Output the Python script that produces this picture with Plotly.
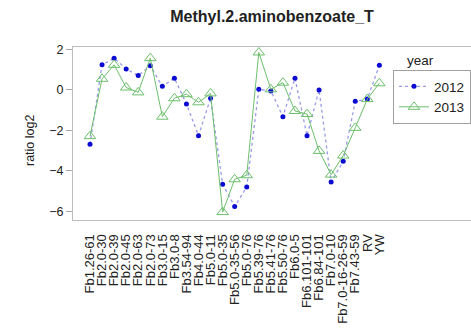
import plotly.graph_objects as go

categories = ["Fb1.26-61", "Fb2.0-30", "Fb2.0-39", "Fb2.0-45", "Fb2.0-63", "Fb2.0-73",
              "Fb3.0-15", "Fb3.0-8", "Fb3.54-94", "Fb4.0-44", "Fb5.0-11", "Fb5.0-35",
              "Fb5.0-35-56", "Fb5.0-76", "Fb5.39-76", "Fb5.41-76", "Fb5.50-76", "Fb6.0-5",
              "Fb6.101-101", "Fb6.84-101", "Fb7.0-10", "Fb7.0-16-26-59", "Fb7.43-59", "RV", "YW"]

y2012 = [-2.68, 1.24, 1.57, 1.04, 0.71, 1.19, 0.18, 0.58, -0.69, -2.26, -0.41, -4.66,
         -5.75, -4.79, 0.03, -0.05, -1.32, 0.58, -2.26, 0.0, -4.55, -3.52, -0.56, -0.45, 1.22]
y2013 = [-2.28, 0.55, 1.24, 0.12, -0.12, 1.57, -1.32, -0.41, -0.21, -0.61, -0.17, -6.03,
         -4.41, -4.21, 1.85, 0.03, 0.36, -1.04, -1.19, -3.01, -4.18, -3.24, -1.87, -0.45, 0.33]

yticks = [-6, -4, -2, 0, 2]
xidx = list(range(len(categories)))

fig = go.Figure()
fig.add_trace(go.Scatter(
    x=xidx, y=y2012, name="2012", mode="lines+markers",
    line=dict(color="#9a9aea", width=1.3, dash="dot"),
    marker=dict(symbol="circle", size=5, color="#0a0ad2"),
))
fig.add_trace(go.Scatter(
    x=xidx, y=y2013, name="2013", mode="lines+markers",
    line=dict(color="#6cbf6c", width=1),
    marker=dict(symbol="triangle-up-open", size=10, color="#6cbf6c", line=dict(width=1)),
))

fig.update_layout(
    width=471, height=335,
    margin=dict(l=73, r=0, t=47, b=115),
    paper_bgcolor="white", plot_bgcolor="white",
    font=dict(family="Liberation Sans, Arial, sans-serif", size=12, color="#222"),
    title=dict(text="<b>Methyl.2.aminobenzoate_T</b>", x=0.5, xref="paper",
               y=1 - 16 / 335, yanchor="middle", font=dict(size=16, color="#222")),
    showlegend=True,
    legend=dict(x=(393 - 73) / 398, xanchor="left", y=(220 - 70) / 173, yanchor="top",
                bordercolor="#a0a0a0", borderwidth=1, bgcolor="white",
                font=dict(size=13.5, color="#222"), tracegroupgap=0),
    xaxis=dict(
        range=[-1.41, 31.6], tickmode="array", tickvals=xidx, ticktext=categories,
        tickangle=-90, ticks="outside", ticklen=8, tickcolor="rgba(0,0,0,0)",
        showgrid=False, zeroline=False, showline=True, mirror=True,
        linecolor="#bdbdbd", linewidth=1, tickfont=dict(size=13),
    ),
    yaxis=dict(
        range=[-6.42, 2.12], tickmode="array", tickvals=yticks,
        ticks="outside", ticklen=6, tickcolor="#aaaaaa",
        showgrid=False, zeroline=False, showline=True,
        linecolor="#bdbdbd", linewidth=1, tickfont=dict(size=12.5),
    ),
    annotations=[
        dict(text="ratio log2", xref="paper", yref="paper", x=(30 - 73) / 398,
             y=(220 - 141) / 173, textangle=-90, showarrow=False,
             xanchor="center", yanchor="middle", font=dict(size=12.5, color="#222")),
        dict(text="year", xref="paper", yref="paper", x=(405 - 73) / 398,
             y=(220 - 61) / 173, showarrow=False, xanchor="left", yanchor="middle",
             font=dict(size=13.5, color="#222")),
    ],
)

fig.write_html("out.html")
